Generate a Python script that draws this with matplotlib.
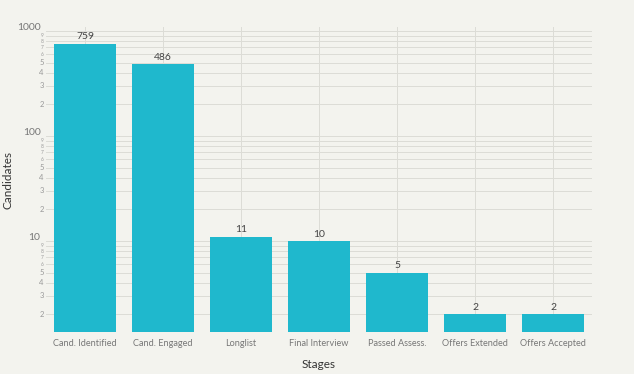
import numpy as np
import matplotlib.pyplot as plt
import matplotlib.transforms as mtransforms
from matplotlib.ticker import FixedLocator, FixedFormatter, NullFormatter

# funnel data
stages = ['Cand. Identified', 'Cand. Engaged', 'Longlist', 'Final Interview',
          'Passed Assess.', 'Offers Extended', 'Offers Accepted']
candidates = [759, 486, 11, 10, 5, 2, 2]

bg = '#F3F3EE'
bar_color = '#1FB8CD'
text_gray = '#777777'
grid_gray = '#DCDCD6'

plt.rcParams['font.family'] = ['Lato', 'DejaVu Sans']

fig = plt.figure(figsize=(6.34, 3.74), dpi=100, facecolor=bg)
ax = fig.add_axes([46 / 634, 42 / 374, 546 / 634, 305 / 374], facecolor=bg)

x = np.arange(len(stages))
ax.bar(x, candidates, width=0.8, color=bar_color, zorder=3)
ax.set_yscale('log')
ax.set_ylim(1.36, 1092)
ax.set_xlim(-0.5, len(stages) - 0.5)

for xi, v in zip(x, candidates):
    ax.text(xi, v * 1.05, str(v), ha='center', va='bottom', fontsize=7.5,
            color='#444444', zorder=4)

# major / minor ticks on log axis
majors = [10, 100, 1000]
ax.yaxis.set_major_locator(FixedLocator(majors))
ax.yaxis.set_major_formatter(FixedFormatter([str(m) for m in majors]))
minors = [d * m for d in [1, 10, 100] for m in range(2, 10) if d * m < 1000]
ax.yaxis.set_minor_locator(FixedLocator(minors))
ax.yaxis.set_minor_formatter(NullFormatter())
ax.tick_params(axis='y', which='major', length=0, labelsize=7.5,
               labelcolor=text_gray, pad=4)
ax.tick_params(axis='y', which='minor', length=0)
# lift the decade labels a little so they clear the squeezed minor labels
lift = mtransforms.ScaledTranslation(0, 3 / 72, fig.dpi_scale_trans)
for lbl in ax.get_yticklabels():
    lbl.set_transform(lbl.get_transform() + lift)
for m in minors:
    k = int(str(m)[0])
    fs = 5.5 if k <= 5 else 3.5
    ax.text(-0.004, m, str(k), transform=ax.get_yaxis_transform(),
            ha='right', va='center', fontsize=fs, color='#999999')

ax.set_xticks(x)
ax.set_xticklabels(stages)
ax.tick_params(axis='x', length=0, labelsize=6.6, labelcolor=text_gray, pad=5)

ax.grid(True, which='both', axis='y', color=grid_gray, linewidth=0.7, zorder=0)
ax.grid(True, which='major', axis='x', color=grid_gray, linewidth=0.7, zorder=0)
for s in ax.spines.values():
    s.set_visible(False)

ax.set_xlabel('Stages', fontsize=8.5, color='#333333', labelpad=8)
fig.text(8 / 634, 1 - 180 / 374, 'Candidates', rotation=90, ha='center',
         va='center', fontsize=8.5, color='#333333')

fig.savefig('out.png', dpi=100, facecolor=bg)
